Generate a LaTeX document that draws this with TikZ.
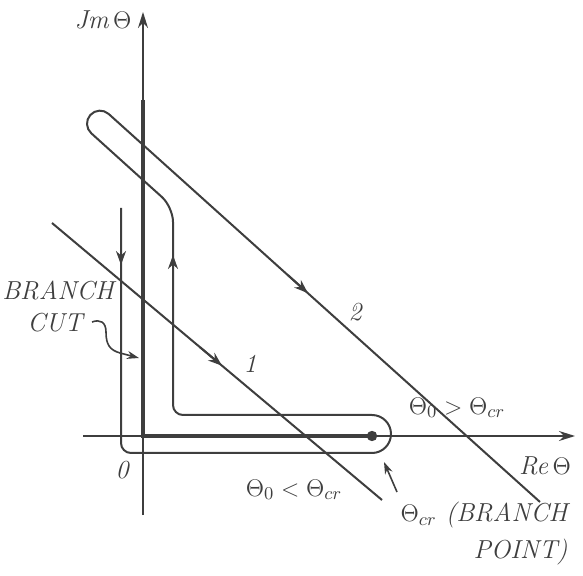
\documentclass[tikz,border=0pt]{standalone}
\usetikzlibrary{arrows.meta}
\definecolor{ink}{RGB}{62,62,62}
\begin{document}
\begin{tikzpicture}[x=0.5pt,y=-0.5pt,
  axisline/.style={draw=ink,line width=0.8pt},
  cutline/.style={draw=ink,line width=2.2pt},
  contour/.style={draw=ink,line width=1pt},
  axisarrow/.style={-{Stealth[length=8pt,width=5pt]}},
  midarrow/.style={-{Stealth[length=7pt,width=5pt]}},
  lbl/.style={text=ink,font=\fontsize{13}{18.5}\selectfont\itshape,inner sep=0pt}
]
\useasboundingbox (0,0) rectangle (583,576);

% coordinates
\coordinate (ybot) at (143,515);
\coordinate (ytop) at (143,12);
\coordinate (xleft) at (83,436);
\coordinate (xright) at (575,436);
\coordinate (O) at (143,436);
\coordinate (cuttop) at (143,100);
\coordinate (bp) at (372,436);

% axes
\draw[axisline,axisarrow] (ybot) -- (ytop);
\draw[axisline,axisarrow] (xleft) -- (xright);

% branch cut
\draw[cutline] (cuttop) -- (O) -- (bp);
\fill[ink] (bp) circle[radius=2.6pt];

% contour 2
\coordinate (c2start) at (121,208);
\coordinate (c2end) at (540,502);
\draw[contour] (c2start) [rounded corners=5pt] -- (121,453) -- (200,453) [sharp corners] -- (372,453)
  arc[start angle=-90,end angle=90,radius=9.5pt] -- (250,415)
  [rounded corners=5pt] -- (173,415) [rounded corners=7.5pt] -- (173,207) -- (140,177.3)
  [sharp corners] -- (91.3,133.3) arc[start angle=228,end angle=48,radius=6.5pt] -- (c2end);

% contour 1
\coordinate (c1start) at (52,223);
\coordinate (c1end) at (382,500);
\draw[contour] (c1start) -- (c1end);

% direction arrows
\draw[contour,midarrow] (121,240) -- (121,265);
\draw[contour,midarrow] (173,280) -- (173,255);
\draw[contour,midarrow] (200,347.2) -- (222,365.7);
\draw[contour,midarrow] (288,275.2) -- (308,293.2);

% labels
\node[lbl] (jm) at (103,20) {Jm\,$\Theta$};
\node[lbl] (re) at (545,466) {Re\,$\Theta$};
\node[lbl] (zero) at (122,470) {0};
\node[lbl] (one) at (250,364) {1};
\node[lbl] (two) at (355,312) {2};
\node[lbl] (branch) at (58,290) {BRANCH};
\node[lbl] (cut) at (55,323) {CUT};
\node[lbl] (less) at (294,490) {$\Theta_0 < \Theta_{cr}$};
\node[lbl] (greater) at (457,408) {$\Theta_0 > \Theta_{cr}$};
\node[lbl,align=right,anchor=east] (bpt) at (568,534) {$\Theta_{cr}$ (BRANCH\\POINT)};

% pointer arrows
\coordinate (cuttip) at (139,358);
\draw[ink,line width=0.8pt,-{Stealth[length=6pt,width=4pt]}] (92,322) .. controls (100,319) and (106,322) .. (106,332)
  .. controls (106,345) and (110,350) .. (120,353) -- (cuttip);
\coordinate (bptip) at (384,462);
\draw[ink,line width=0.8pt,-{Stealth[length=6pt,width=4pt]}] (397,492) -- (bptip);
\end{tikzpicture}
\end{document}
